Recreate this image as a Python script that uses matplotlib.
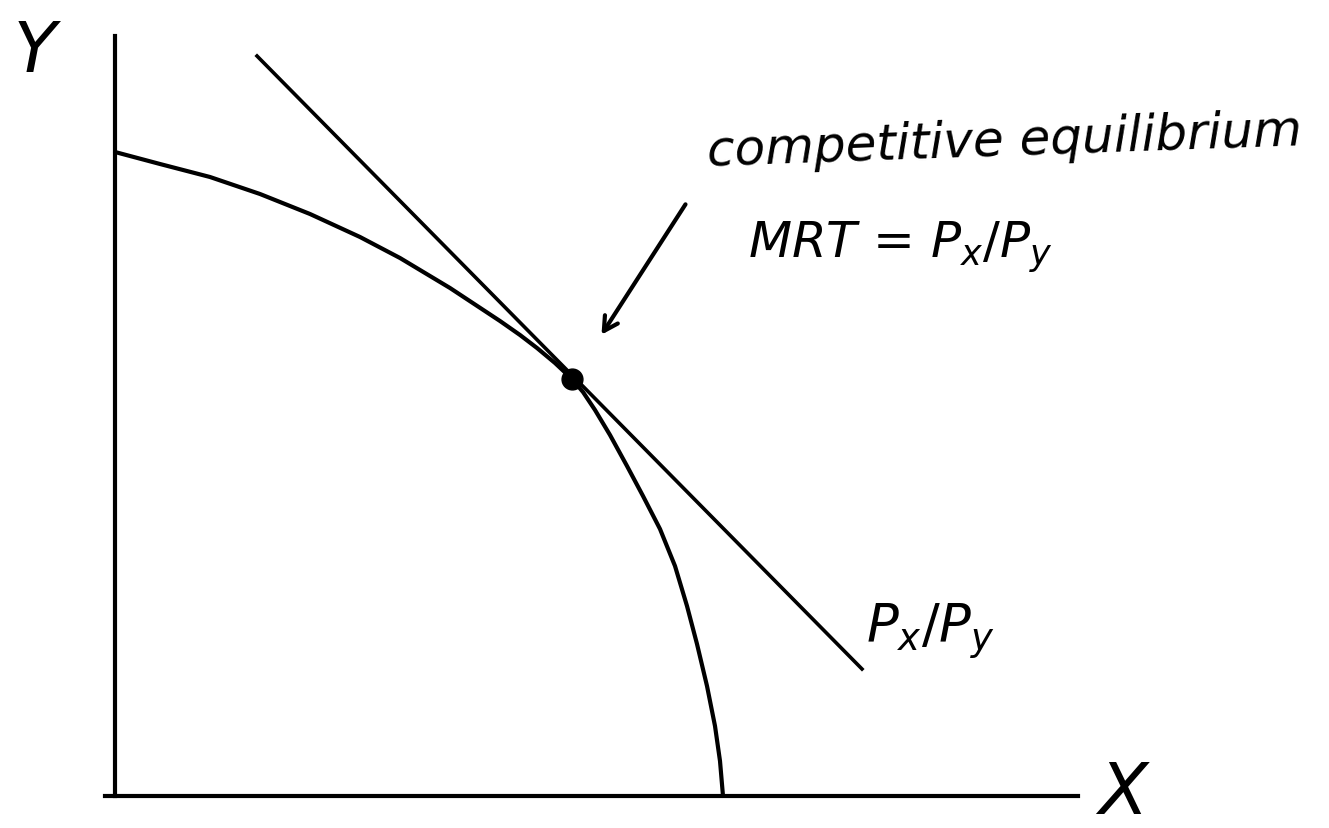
import numpy as np
import matplotlib
matplotlib.use("Agg")
from matplotlib import pyplot as plt

# production possibility frontier (origin at the axes corner)
ppf_x = [0, 45, 95, 145, 195, 245, 285, 335, 385, 405, 422, 440, 457, 468, 480, 495,
         512, 528, 545, 560, 572, 582, 592, 600, 605, 608]
ppf_y = [644, 632, 619, 602, 582, 559, 538, 508, 475, 461, 448, 433, 417, 404, 386, 361,
         330, 300, 267, 230, 190, 152, 110, 70, 35, 0]

# price line Px/Py (end points) and the tangency point
price_x = [142, 747]
price_y = [740, 127]
eq_x, eq_y = 457, 417

# axes extents
yaxis_top = 760
xaxis_right = 963

plt.rcParams['mathtext.fontset'] = 'dejavusans'

fig = plt.figure(figsize=(13.29, 8.29), dpi=100)
ax = fig.add_axes([0, 0, 1, 1])
ax.set_xlim(-115, 1214)
ax.set_ylim(-32, 797)
ax.axis('off')

lw = 3.0
ax.plot([0, 0], [0, yaxis_top], color='black', lw=lw)
ax.plot([-10, xaxis_right], [0, 0], color='black', lw=lw)
ax.plot(ppf_x, ppf_y, color='black', lw=lw, solid_capstyle='round', solid_joinstyle='round')
ax.plot(price_x, price_y, color='black', lw=2.6)
ax.plot(eq_x, eq_y, 'o', color='black', ms=15)

# arrow pointing at the equilibrium
ax.annotate('', xy=(485, 459), xytext=(572, 594),
            arrowprops=dict(arrowstyle='->,head_length=1.0,head_width=0.55', color='black', lw=3))

txt = dict(color='black', style='italic', family='DejaVu Sans')
ax.text(890, 655, 'competitive equilibrium', fontsize=36, ha='center', va='center', rotation=2, **txt)
ax.text(785, 550, r'MRT = $P_x/P_y$', fontsize=36, ha='center', va='center', **txt)
ax.text(815, 165, r'$P_x/P_y$', fontsize=38, ha='center', va='center', **txt)
ax.text(1008, 2, 'X', fontsize=52, ha='center', va='center', **txt)
ax.text(-80, 745, 'Y', fontsize=50, ha='center', va='center', **txt)

fig.savefig('out.png', dpi=100, facecolor='white')
